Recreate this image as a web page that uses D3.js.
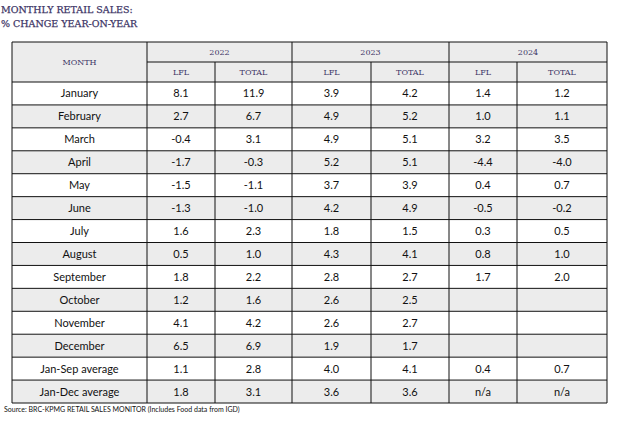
<!DOCTYPE html>
<html><head><meta charset="utf-8">
<script src="https://d3js.org/d3.v7.min.js"></script>
<style>body{margin:0;background:#fff}
.serif{font-family:"DejaVu Serif",serif}
.sans{font-family:Lato,"Open Sans",sans-serif}
</style>
</head><body>
<script>
var months = ["January","February","March","April","May","June","July","August","September","October","November","December","Jan-Sep average","Jan-Dec average"];
var years = ["2022","2023","2024"];
var lfl2022 = ["8.1","2.7","-0.4","-1.7","-1.5","-1.3","1.6","0.5","1.8","1.2","4.1","6.5","1.1","1.8"];
var tot2022 = ["11.9","6.7","3.1","-0.3","-1.1","-1.0","2.3","1.0","2.2","1.6","4.2","6.9","2.8","3.1"];
var lfl2023 = ["3.9","4.9","4.9","5.2","3.7","4.2","1.8","4.3","2.8","2.6","2.6","1.9","4.0","3.6"];
var tot2023 = ["4.2","5.2","5.1","5.1","3.9","4.9","1.5","4.1","2.7","2.5","2.7","1.7","4.1","3.6"];
var lfl2024 = ["1.4","1.0","3.2","-4.4","0.4","-0.5","0.3","0.8","1.7","","","","0.4","n/a"];
var tot2024 = ["1.2","1.1","3.5","-4.0","0.7","-0.2","0.5","1.0","2.0","","","","0.7","n/a"];
var cols = [lfl2022,tot2022,lfl2023,tot2023,lfl2024,tot2024];

var edges = [12,147,215,292,371,449,517,607];
var top0 = 42, h1 = 20, h2 = 20, bottom = 403;
var y = d3.scaleBand().domain(d3.range(months.length)).range([top0+h1+h2, bottom]);
var svg = d3.select("body").append("svg").attr("width",619).attr("height",422);
var title = "#3d3566", line = "#111", gray = "#ececec";

function txt(x,yy,s,cls,size,fill,anchor){
  return svg.append("text").attr("x",x).attr("y",yy).text(s).attr("class",cls)
    .attr("font-size",size).attr("fill",fill).attr("text-anchor",anchor||"start");
}

txt(1,13,"MONTHLY RETAIL SALES:","serif",9.5,title).attr("stroke",title).attr("stroke-width",0.25);
txt(1,27,"% CHANGE YEAR-ON-YEAR","serif",9.5,title).attr("stroke",title).attr("stroke-width",0.25);

svg.append("rect").attr("x",edges[0]).attr("y",top0).attr("width",edges[7]-edges[0]).attr("height",h1+h2).attr("fill",gray);
months.forEach(function(m,i){
  svg.append("rect").attr("x",edges[0]).attr("y",y(i)).attr("width",edges[7]-edges[0]).attr("height",y.bandwidth())
    .attr("fill", i%2 ? gray : "#fff");
});
svg.append("line").attr("x1",edges[0]).attr("x2",edges[7]).attr("y1",top0).attr("y2",top0).attr("stroke",line);
svg.append("line").attr("x1",edges[1]).attr("x2",edges[7]).attr("y1",top0+h1).attr("y2",top0+h1).attr("stroke",line);
d3.range(months.length+1).forEach(function(i){
  var yy = i<months.length ? y(i) : bottom;
  svg.append("line").attr("x1",edges[0]).attr("x2",edges[7]).attr("y1",yy).attr("y2",yy).attr("stroke",line);
});
edges.forEach(function(x,i){
  var yStart = (i==2||i==4||i==6) ? top0+h1 : top0;
  svg.append("line").attr("x1",x).attr("x2",x).attr("y1",yStart).attr("y2",bottom).attr("stroke",line);
});
txt((edges[0]+edges[1])/2,top0+h1+3,"MONTH","serif",8,title,"middle");
years.forEach(function(yr,k){
  txt((edges[1+2*k]+edges[3+2*k])/2,top0+h1/2+3,yr,"serif",8,title,"middle");
  ["LFL","TOTAL"].forEach(function(s,j){
    txt((edges[1+2*k+j]+edges[2+2*k+j])/2,top0+h1+h2/2+3,s,"serif",8,title,"middle");
  });
});
months.forEach(function(m,i){
  var cy = y(i)+y.bandwidth()/2+4;
  txt((edges[0]+edges[1])/2,cy,m,"sans",11,"#111","middle");
  cols.forEach(function(c,j){
    txt((edges[1+j]+edges[2+j])/2,cy,c[i],"sans",11,"#111","middle");
  });
});
txt(4,412,"Source: BRC-KPMG RETAIL SALES MONITOR (Includes Food data from IGD)","sans",7,"#111");
</script>
</body></html>
